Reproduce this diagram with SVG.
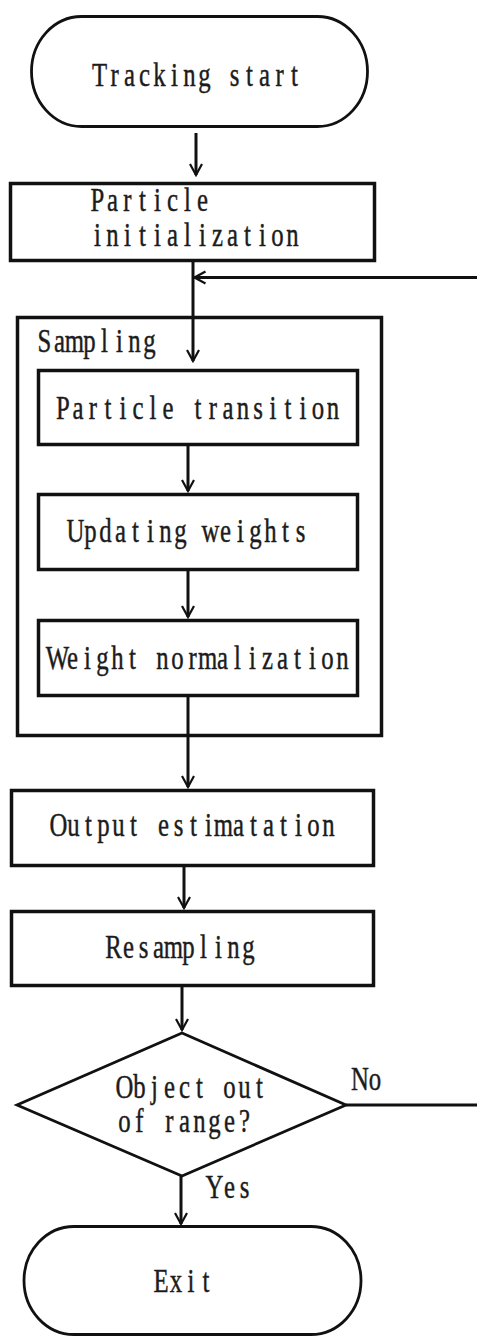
<svg xmlns="http://www.w3.org/2000/svg" width="477" height="1336" viewBox="0 0 477 1336">
  <defs>
    <style>
      .box { fill: #ffffff; stroke: #111111; stroke-width: 3.5; }
      .term { fill: #ffffff; stroke: #111111; stroke-width: 2.8; }
      .edge { fill: none; stroke: #111111; stroke-width: 3; }
      /* condensed fixed-pitch labels: each glyph centred in a 15px cell (20 units after the 0.75 x-scale) */
      .lbl { font-family: "Liberation Serif", "Times New Roman", serif; font-size: 33px; fill: #1c1c1c; stroke: #1c1c1c; stroke-width: 0.45; text-anchor: middle; }
    </style>
    <marker id="arrow" viewBox="-13 -8 15 16" markerWidth="15" markerHeight="16" refX="0" refY="0" orient="auto" markerUnits="userSpaceOnUse">
      <path d="M-11,-6 L0,0 L-11,6" fill="none" stroke="#111111" stroke-width="2.2"/>
    </marker>
  </defs>
  <rect width="477" height="1336" fill="#ffffff"/>

  <g id="node-start">
    <rect class="term" x="31.5" y="16.5" width="336" height="110" rx="50" ry="55"/>
    <text class="lbl" transform="scale(0.75,1)" y="86.5" x="132.7 152.7 172.7 192.7 212.7 232.7 252.7 272.7 292.7 312.7 332.7 352.7 372.7 392.7">Tracking start</text>
  </g>

  <g id="node-init">
    <rect class="box" x="10.5" y="183.5" width="364" height="77"/>
    <text class="lbl" transform="scale(0.75,1)" y="211.5" x="130 150 170 190 210 230 250 270">Particle</text>
    <text class="lbl" transform="scale(0.75,1)" y="246" x="130 150 170 190 210 230 250 270 290 310 330 350 370 390">initialization</text>
  </g>

  <g id="group-sampling">
    <rect class="box" x="17.5" y="317.5" width="364" height="418" fill="none"/>
    <text class="lbl" transform="scale(0.75,1)" y="352.5" x="59.3 79.3 99.3 119.3 139.3 159.3 179.3 199.3">Sampling</text>
  </g>

  <g id="node-transition">
    <rect class="box" x="38.5" y="370.5" width="319" height="74"/>
    <text class="lbl" transform="scale(0.75,1)" y="419" x="84 104 124 144 164 184 204 224 244 264 284 304 324 344 364 384 404 424 444">Particle transition</text>
  </g>

  <g id="node-update">
    <rect class="box" x="38.5" y="494.5" width="319" height="75"/>
    <text class="lbl" transform="scale(0.75,1)" y="542" x="100.7 120.7 140.7 160.7 180.7 200.7 220.7 240.7 260.7 280.7 300.7 320.7 340.7 360.7 380.7 400.7">Updating weights</text>
  </g>

  <g id="node-normalize">
    <rect class="box" x="38.5" y="620.5" width="319" height="75"/>
    <text class="lbl" transform="scale(0.75,1)" y="669.5" x="76.7 96.7 116.7 136.7 156.7 176.7 196.7 216.7 236.7 256.7 276.7 296.7 316.7 336.7 356.7 376.7 396.7 416.7 436.7 456.7">Weight normalization</text>
  </g>

  <g id="node-output">
    <rect class="box" x="11.5" y="790.5" width="362" height="75"/>
    <text class="lbl" transform="scale(0.75,1)" y="836.5" x="78 98 118 138 158 178 198 218 238 258 278 298 318 338 358 378 398 418 438">Output estimatation</text>
  </g>

  <g id="node-resample">
    <rect class="box" x="11.5" y="911.5" width="362" height="74"/>
    <text class="lbl" transform="scale(0.75,1)" y="958" x="151.3 171.3 191.3 211.3 231.3 251.3 271.3 291.3 311.3 331.3">Resampling</text>
  </g>

  <g id="node-decision">
    <polygon class="term" points="182,1033 346,1105 182,1176 17,1105"/>
    <text class="lbl" transform="scale(0.75,1)" y="1098" x="166 186 206 226 246 266 286 306 326 346">Object out</text>
    <text class="lbl" transform="scale(0.75,1)" y="1132.5" x="166 186 206 226 246 266 286 306 326">of range?</text>
  </g>

  <g id="node-exit">
    <rect class="term" x="24" y="1226.5" width="337" height="108" rx="50" ry="54"/>
    <text class="lbl" transform="scale(0.75,1)" y="1292.5" x="214.7 234.7 254.7 274.7">Exit</text>
  </g>

  <g id="connectors">
    <line class="edge" x1="196" y1="133" x2="196" y2="175" marker-end="url(#arrow)"/>
    <line class="edge" x1="193" y1="262" x2="193" y2="361" marker-end="url(#arrow)"/>
    <line class="edge" x1="477" y1="277.5" x2="194.5" y2="277.5" marker-end="url(#arrow)"/>
    <line class="edge" x1="188" y1="446" x2="188" y2="491" marker-end="url(#arrow)"/>
    <line class="edge" x1="188" y1="571" x2="188" y2="617" marker-end="url(#arrow)"/>
    <line class="edge" x1="188" y1="697" x2="188" y2="787" marker-end="url(#arrow)"/>
    <line class="edge" x1="184" y1="867" x2="184" y2="908" marker-end="url(#arrow)"/>
    <line class="edge" x1="182" y1="987" x2="182" y2="1030" marker-end="url(#arrow)"/>
    <line class="edge" x1="346" y1="1105" x2="477" y2="1105"/>
    <line class="edge" x1="181" y1="1176" x2="181" y2="1224" marker-end="url(#arrow)"/>
    <text class="lbl" transform="scale(0.75,1)" y="1090" x="480 500">No</text>
    <text class="lbl" transform="scale(0.75,1)" y="1198" x="286 306 326">Yes</text>
  </g>
</svg>
